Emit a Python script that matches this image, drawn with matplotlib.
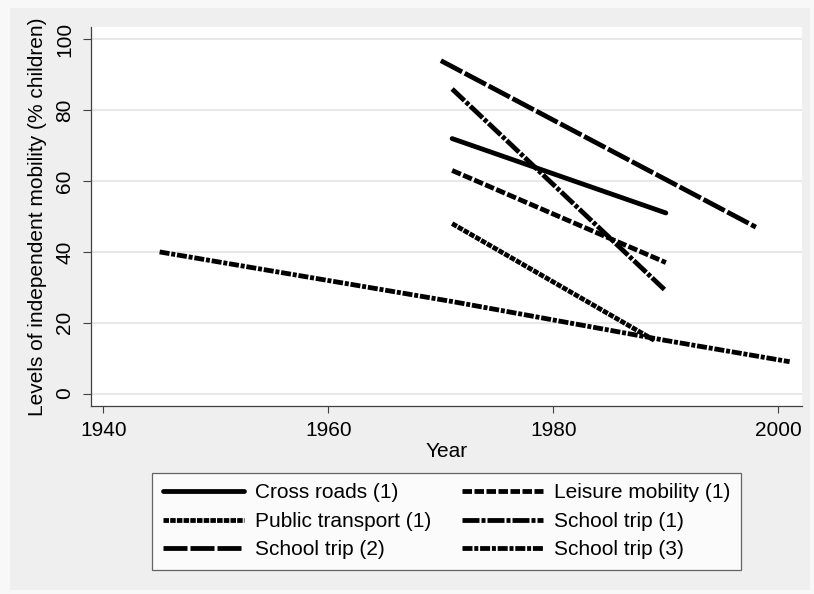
import matplotlib
matplotlib.use("Agg")
import matplotlib.pyplot as plt
from matplotlib.patches import Rectangle

plt.rcParams["font.family"] = ["Liberation Sans", "DejaVu Sans"]
plt.rcParams["lines.scale_dashes"] = False

# Values
cross_years = [1971, 1990]
cross_vals = [72, 51]
leisure_years = [1971, 1990]
leisure_vals = [63, 37]
public_years = [1971, 1989]
public_vals = [48, 15]
school1_years = [1971, 1990]
school1_vals = [86, 29]
school2_years = [1970, 1998]
school2_vals = [94, 47]
school3_years = [1945, 1971, 1990, 2001]
school3_vals = [40, 26, 15, 9]

x_ticks = [1940, 1960, 1980, 2000]
y_ticks = [0, 20, 40, 60, 80, 100]

W, H = 814, 594
PX = 0.72  # points per pixel at dpi 100

fig = plt.figure(figsize=(W / 100, H / 100), dpi=100, facecolor="#f8f8f8")
fig.patches.append(Rectangle((10 / W, 4 / H), 800 / W, 582 / H, transform=fig.transFigure,
                             facecolor="#efefef", edgecolor="none", zorder=-10))

ax = fig.add_axes([91 / W, (H - 406) / H, (802 - 91) / W, (406 - 27) / H])
ax.set_facecolor("white")

lw = 4.8 * PX
# dash patterns in pixels (visible on/off lengths)
series = [
    ("Cross roads (1)", cross_years, cross_vals, None),
    ("Leisure mobility (1)", leisure_years, leisure_vals, (9.5, 2.5)),
    ("Public transport (1)", public_years, public_vals, (5.5, 1.2)),
    ("School trip (1)", school1_years, school1_vals, (17, 2, 4, 2)),
    ("School trip (2)", school2_years, school2_vals, (24, 3)),
    ("School trip (3)", school3_years, school3_vals, (10, 1.8, 4, 1.8)),
]
handles = {}
for label, xs, ys, dash in series:
    if dash is None:
        line, = ax.plot(xs, ys, color="black", lw=lw, solid_capstyle="round", label=label)
    else:
        line, = ax.plot(xs, ys, color="black", lw=lw, label=label,
                        dashes=[d * PX for d in dash], dash_capstyle="butt")
    handles[label] = line

ax.set_xlim(1938.9, 2002.1)
ax.set_ylim(-3.5, 103.5)
ax.set_xticks(x_ticks)
ax.set_yticks(y_ticks)
ax.grid(axis="y", color="#e6e6e6", lw=1.3)
ax.set_axisbelow(True)

for side in ["top", "right"]:
    ax.spines[side].set_visible(False)
for side in ["left", "bottom"]:
    ax.spines[side].set_color("#404040")
    ax.spines[side].set_linewidth(0.9)

fs = 15
ax.tick_params(axis="x", length=5, width=0.8, color="#404040", pad=6, labelsize=fs)
ax.tick_params(axis="y", length=6, width=0.8, color="#404040", pad=6, labelsize=fs)
for t in ax.get_yticklabels():
    t.set_rotation(90)
    t.set_va("center")
    t.set_ha("right")

ax.set_xlabel("Year", fontsize=fs, labelpad=1)
ax.set_ylabel("Levels of independent mobility (% children)", fontsize=fs, labelpad=6)

# legend is filled row by row in the reference
order = ["Cross roads (1)", "Public transport (1)", "School trip (2)",
         "Leisure mobility (1)", "School trip (1)", "School trip (3)"]
leg = fig.legend([handles[k] for k in order], order,
                 loc="upper center", bbox_to_anchor=(446.5 / W, (H - 473) / H),
                 ncol=2, fontsize=fs, frameon=True, fancybox=False,
                 handlelength=3.9, handletextpad=0.5, columnspacing=1.5,
                 labelspacing=0.45, borderpad=0.5, borderaxespad=0)
leg.get_frame().set_edgecolor("#404040")
leg.get_frame().set_linewidth(0.9)

fig.savefig("out.png", dpi=100, facecolor=fig.get_facecolor())
